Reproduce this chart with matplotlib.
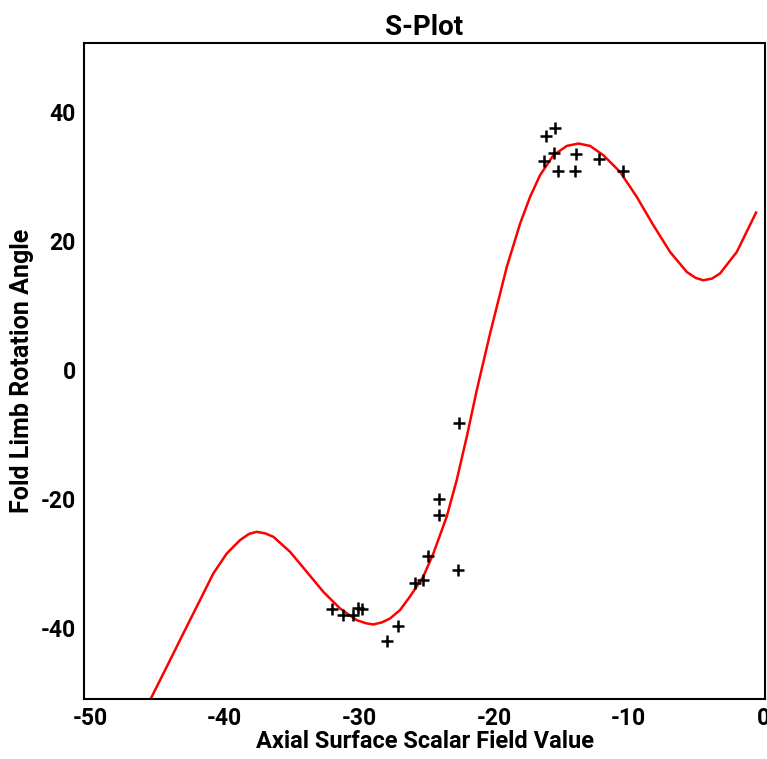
import matplotlib
matplotlib.use("Agg")
import matplotlib.pyplot as plt

# fitted curve
curve_x = [-45.54, -44.30, -43.07, -41.83, -40.84, -39.84, -38.86, -38.2, -37.62,
           -37.0, -36.38, -35.14, -33.90, -32.67, -31.43, -30.19,
           -29.5, -28.95, -28.3, -27.71, -26.97, -26.23, -25.24, -24.49, -23.50, -22.76,
           -22.01, -21.27, -20.28, -19.04, -18.05, -17.31, -16.57, -15.58, -14.58, -13.72,
           -12.85, -11.86, -10.62, -9.38, -8.15, -6.91, -5.67, -5.0, -4.44, -3.8,
           -3.20, -1.95, -0.52]
curve_y = [-51.16, -45.99, -40.82, -35.66, -31.52, -28.42, -26.36, -25.4, -25.07,
           -25.3, -25.84, -28.17, -31.27, -34.37, -36.95, -38.76,
           -39.25, -39.43, -39.1, -38.50, -37.2, -35.1, -32.0, -28.4, -22.7, -17.05,
           -10.3, -3.1, 5.69, 16.0, 22.74, 26.87, 30.23, 33.33, 34.78, 35.15,
           34.78, 33.33, 30.74, 26.87, 22.48, 18.34, 15.24, 14.3, 13.95, 14.2,
           14.99, 18.34, 24.45]

# observations
obs_x = [-32.04, -31.18, -30.44, -30.07, -29.82, -27.1, -27.91, -25.85, -25.24, -24.87,
         -24.07, -24.07, -22.69, -22.56,
         -15.45, -16.14, -15.50, -16.27, -15.2, -13.89, -13.97, -12.18, -10.38]
obs_y = [-37.1, -38.0, -38.0, -36.9, -37.1, -39.6, -42.0, -33.0, -32.6, -28.8,
         -22.5, -20.05, -31.0, -8.2,
         37.5, 36.3, 33.75, 32.4, 30.95, 33.6, 30.95, 32.7, 30.85]

x_ticks = [-50, -40, -30, -20, -10, 0]
y_ticks = [-40, -20, 0, 20, 40]

plt.rcParams['font.family'] = ['Roboto', 'DejaVu Sans']
plt.rcParams['font.weight'] = 'bold'
plt.rcParams['axes.unicode_minus'] = False

fig = plt.figure(figsize=(7.67, 7.59), dpi=100)
ax = fig.add_axes([0.1095, 0.079, 0.888, 0.864])

ax.plot(curve_x, curve_y, color="red", linewidth=1.8, solid_joinstyle="round")
ax.plot(obs_x, obs_y, linestyle="none", marker="+", color="black",
        markersize=9, markeredgewidth=1.8)

ax.set_xlim(-50.45, 0.15)
ax.set_ylim(-51, 50.7)
ax.set_xticks(x_ticks)
ax.set_yticks(y_ticks)
ax.tick_params(length=0, labelsize=16.5, pad=6)
for lbl in ax.get_xticklabels() + ax.get_yticklabels():
    lbl.set_fontweight("bold")
for s in ax.spines.values():
    s.set_linewidth(1.5)

ax.set_title("S-Plot", fontsize=20, fontweight="bold", pad=6)
ax.set_xlabel("Axial Surface Scalar Field Value", fontsize=17, fontweight="bold", labelpad=0)
ax.set_ylabel("Fold Limb Rotation Angle", fontsize=18, fontweight="bold", labelpad=5)

fig.savefig("out.png", dpi=100)
